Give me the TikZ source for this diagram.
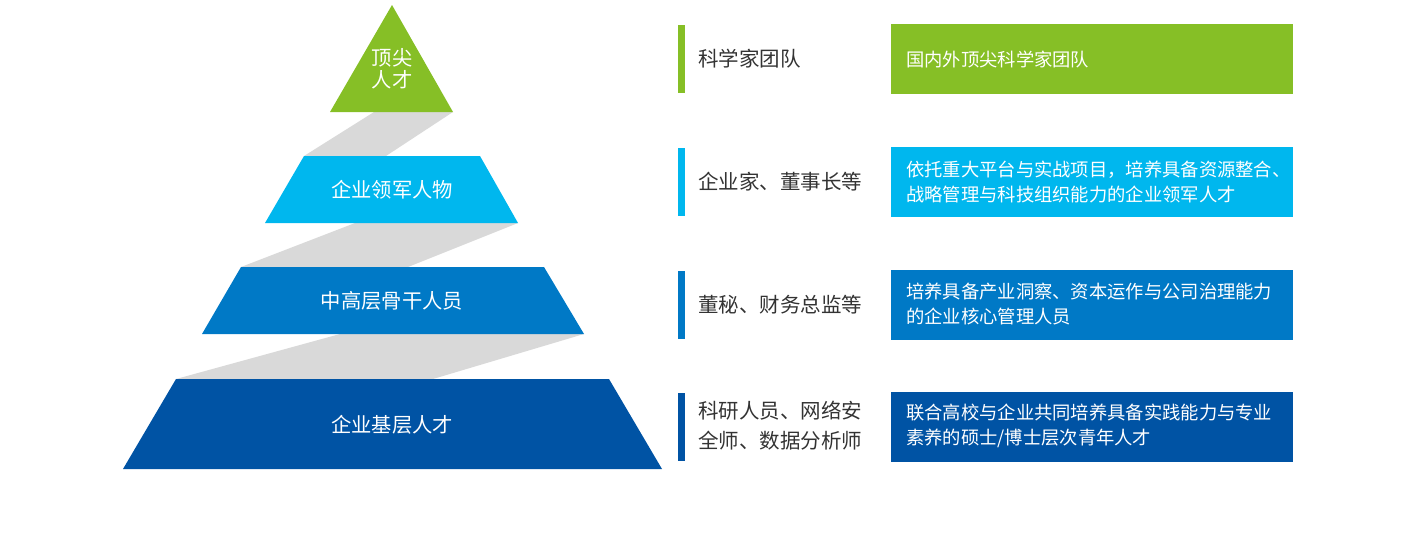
\documentclass[tikz,border=0pt]{standalone}
\usepackage{fontspec}
\newfontfamily\cjk{Noto Sans CJK SC}
\definecolor{topgreen}{HTML}{86BF26}
\definecolor{lightblue}{HTML}{00B7EE}
\definecolor{midblue}{HTML}{0079C6}
\definecolor{darkblue}{HTML}{0053A4}
\definecolor{bandgray}{HTML}{D9D9D9}
\definecolor{labelgray}{HTML}{333333}
\begin{document}
\begin{tikzpicture}[x=1pt,y=-1pt,
  layertext/.style={text=white, align=center, inner sep=0pt, font=\cjk\fontsize{20.3}{22}\selectfont},
  sidetext/.style={anchor=west, text=labelgray, align=left, inner sep=0pt, font=\cjk\fontsize{20.5}{30}\selectfont},
  boxtext/.style={anchor=west, text=white, align=left, inner sep=0pt, font=\cjk\fontsize{18.3}{25}\selectfont}]
\useasboundingbox (0,0) rectangle (1412,554);

% gray bands
\fill[bandgray] (374,112) -- (453,112) -- (386,156) -- (304,156) -- cycle;
\fill[bandgray] (355,223) -- (518,223) -- (408,267) -- (241,267) -- cycle;
\fill[bandgray] (340,334) -- (584,334) -- (433,379) -- (176,379) -- cycle;

% pyramid layers
\fill[topgreen] (392,5) -- (453,112) -- (330,112) -- cycle;
\fill[lightblue] (304,156) -- (480,156) -- (518,223) -- (265,223) -- cycle;
\fill[midblue] (241,267) -- (544,267) -- (584,334) -- (202,334) -- cycle;
\fill[darkblue] (176,379) -- (609,379) -- (662,469) -- (123,469) -- cycle;

\node[layertext] (top) at (392,69) {顶尖\\人才};
\node[layertext] (leader) at (392,190) {企业领军人物};
\node[layertext] (middle) at (392,301) {中高层骨干人员};
\node[layertext] (base) at (392,425) {企业基层人才};

% side bars
\fill[topgreen] (678,25) rectangle (685,93);
\fill[lightblue] (678,148) rectangle (685,216);
\fill[midblue] (678,271) rectangle (685,339);
\fill[darkblue] (678,393) rectangle (685,461);

\node[sidetext] (who1) at (698,59) {科学家团队};
\node[sidetext] (who2) at (698,182) {企业家、董事长等};
\node[sidetext] (who3) at (698,305) {董秘、财务总监等};
\node[sidetext] (who4) at (698,426) {科研人员、网络安\\全师、数据分析师};

% description boxes
\fill[topgreen] (891,24) rectangle (1293,94);
\fill[lightblue] (891,147) rectangle (1293,217);
\fill[midblue] (891,270) rectangle (1293,340);
\fill[darkblue] (891,392) rectangle (1293,462);

\node[boxtext] (desc1) at (906,59) {国内外顶尖科学家团队};
\node[boxtext] (desc2) at (906,182) {依托重大平台与实战项目，培养具备资源整合、\\战略管理与科技组织能力的企业领军人才};
\node[boxtext] (desc3) at (906,304) {培养具备产业洞察、资本运作与公司治理能力\\的企业核心管理人员};
\node[boxtext] (desc4) at (906,426) {联合高校与企业共同培养具备实践能力与专业\\素养的硕士/博士层次青年人才};
\end{tikzpicture}
\end{document}
